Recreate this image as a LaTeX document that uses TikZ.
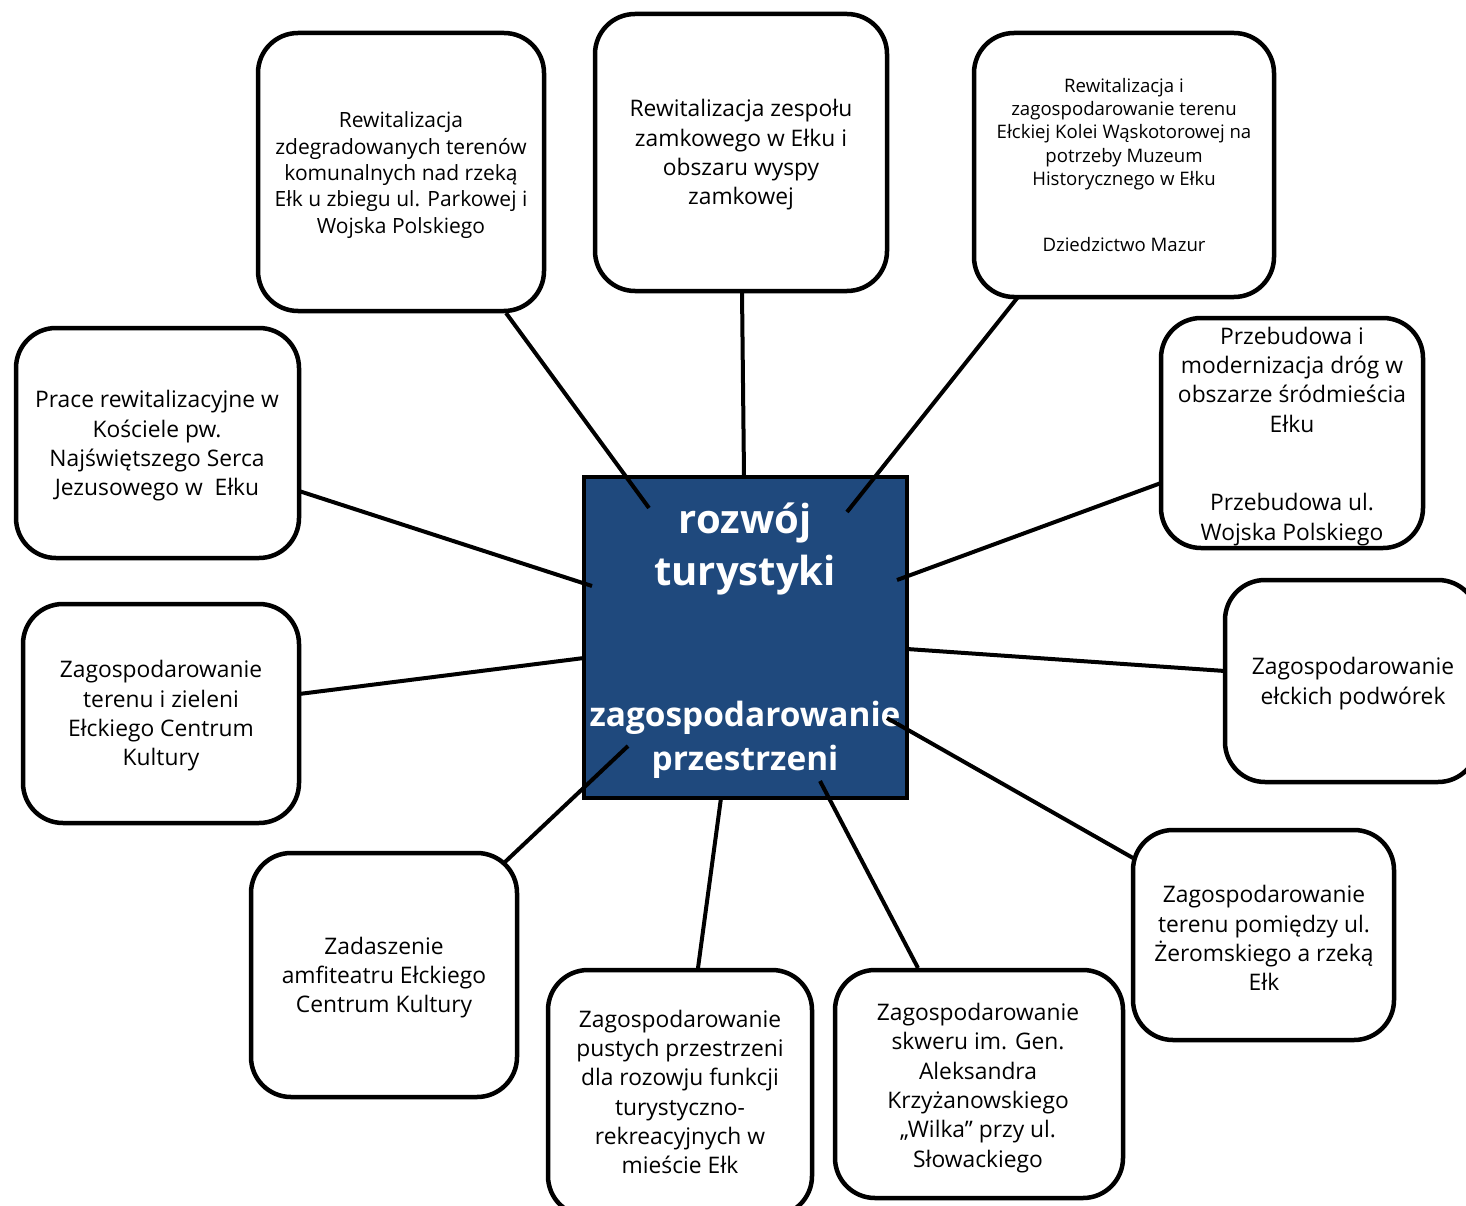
\documentclass[tikz,border=0pt]{standalone}
\usepackage{fontspec}
\setmainfont{Open Sans}
\definecolor{cblue}{HTML}{1F497D}
\begin{document}
\begin{tikzpicture}[x=1pt,y=-1pt,
  box/.style={draw=black, line width=4.5pt, rounded corners=40pt, fill=white, inner sep=0pt},
  conn/.style={draw=black, line width=4pt},
  txt/.style={align=center, inner sep=0pt, text=black, font=\fontsize{22.8}{29.3}\selectfont},
  small/.style={align=center, inner sep=0pt, text=black, font=\fontsize{21}{26.3}\selectfont},
  tiny/.style={align=center, inner sep=0pt, text=black, font=\fontsize{18.6}{23.2}\selectfont},
  ctxt/.style={align=center, inner sep=0pt, text=white, font=\bfseries\fontsize{40}{52}\selectfont},
  ctxtb/.style={align=center, inner sep=0pt, text=white, font=\bfseries\fontsize{33.4}{44}\selectfont}]
\useasboundingbox (0,0) rectangle (1466,1206);

% outer boxes
\node[box, minimum width=286, minimum height=278] (A) at (401,172) {};
\node[box, minimum width=292, minimum height=277] (B) at (741,152.5) {};
\node[box, minimum width=300, minimum height=264] (C) at (1124,165) {};
\node[box, minimum width=262, minimum height=230] (D) at (1292,433) {};
\node[box, minimum width=253, minimum height=202] (E) at (1351.5,681) {};
\node[box, minimum width=261, minimum height=210] (F) at (1263.5,935) {};
\node[box, minimum width=288, minimum height=228] (G) at (979,1084) {};
\node[box, minimum width=264, minimum height=246] (H) at (680,1093) {};
\node[box, minimum width=266, minimum height=244] (I) at (384,975) {};
\node[box, minimum width=276, minimum height=219] (J) at (161,713.5) {};
\node[box, minimum width=283, minimum height=230] (K) at (157.5,443) {};

% centre
\node[draw=black, line width=4pt, fill=cblue, minimum width=323, minimum height=321, inner sep=0pt] (M) at (745.5,637.5) {};

% connector ends
\coordinate (a1) at (506,313); \coordinate (a2) at (649,508);
\coordinate (b1) at (742,292); \coordinate (b2) at (744,476);
\coordinate (c1) at (1018,297); \coordinate (c2) at (847,512);
\coordinate (d1) at (1161,483); \coordinate (d2) at (897,580);
\coordinate (e1) at (1225,671); \coordinate (e2) at (907,649);
\coordinate (f1) at (1133,858); \coordinate (f2) at (887,718);
\coordinate (g1) at (918,968); \coordinate (g2) at (820,781);
\coordinate (h1) at (698,968); \coordinate (h2) at (721,798);
\coordinate (i1) at (505,862); \coordinate (i2) at (628,746);
\coordinate (j1) at (299,694); \coordinate (j2) at (584,658);
\coordinate (k1) at (299,491); \coordinate (k2) at (592,586);

% centre texts
\node[ctxt] (M1) at (745,549) {rozwój\\turystyki};
\node[ctxtb] (M2) at (745,740) {zagospodarowanie\\przestrzeni};

\foreach \s in {a,b,c,d,e,f,g,h,i,j,k} {\draw[conn] (\s1) -- (\s2);}

% texts
\node[small] (tA) at (401,175) {Rewitalizacja\\zdegradowanych terenów\\komunalnych nad rzeką\\Ełk u zbiegu ul. Parkowej i\\Wojska Polskiego};
\node[txt] (tB) at (741,155) {Rewitalizacja zespołu\\zamkowego w Ełku i\\obszaru wyspy\\zamkowej};
\node[tiny] (tC) at (1124,134) {Rewitalizacja i\\zagospodarowanie terenu\\Ełckiej Kolei Wąskotorowej na\\potrzeby Muzeum\\Historycznego w Ełku};
\node[tiny] (tC2) at (1124,245) {Dziedzictwo Mazur};
\node[txt] (tD) at (1292,379.5) {Przebudowa i\\modernizacja dróg w\\obszarze śródmieścia\\Ełku};
\node[txt] (tD2) at (1292,519.5) {Przebudowa ul.\\Wojska Polskiego};
\node[txt] (tE) at (1353,683.5) {Zagospodarowanie\\ełckich podwórek};
\node[txt] (tF) at (1264,938) {Zagospodarowanie\\terenu pomiędzy ul.\\Żeromskiego a rzeką\\Ełk};
\node[txt] (tG) at (978,1088) {Zagospodarowanie\\skweru im. Gen.\\Aleksandra\\Krzyżanowskiego\\„Wilka” przy ul.\\Słowackiego};
\node[txt] (tH) at (680,1092) {Zagospodarowanie\\pustych przestrzeni\\dla rozowju funkcji\\turystyczno-\\rekreacyjnych w\\mieście Ełk};
\node[txt] (tI) at (384,977.5) {Zadaszenie\\amfiteatru Ełckiego\\Centrum Kultury};
\node[txt] (tJ) at (161,716) {Zagospodarowanie\\terenu i zieleni\\Ełckiego Centrum\\Kultury};
\node[txt] (tK) at (157,446) {Prace rewitalizacyjne w\\Kościele pw.\\Najświętszego Serca\\Jezusowego w\ \ Ełku};
\end{tikzpicture}
\end{document}
